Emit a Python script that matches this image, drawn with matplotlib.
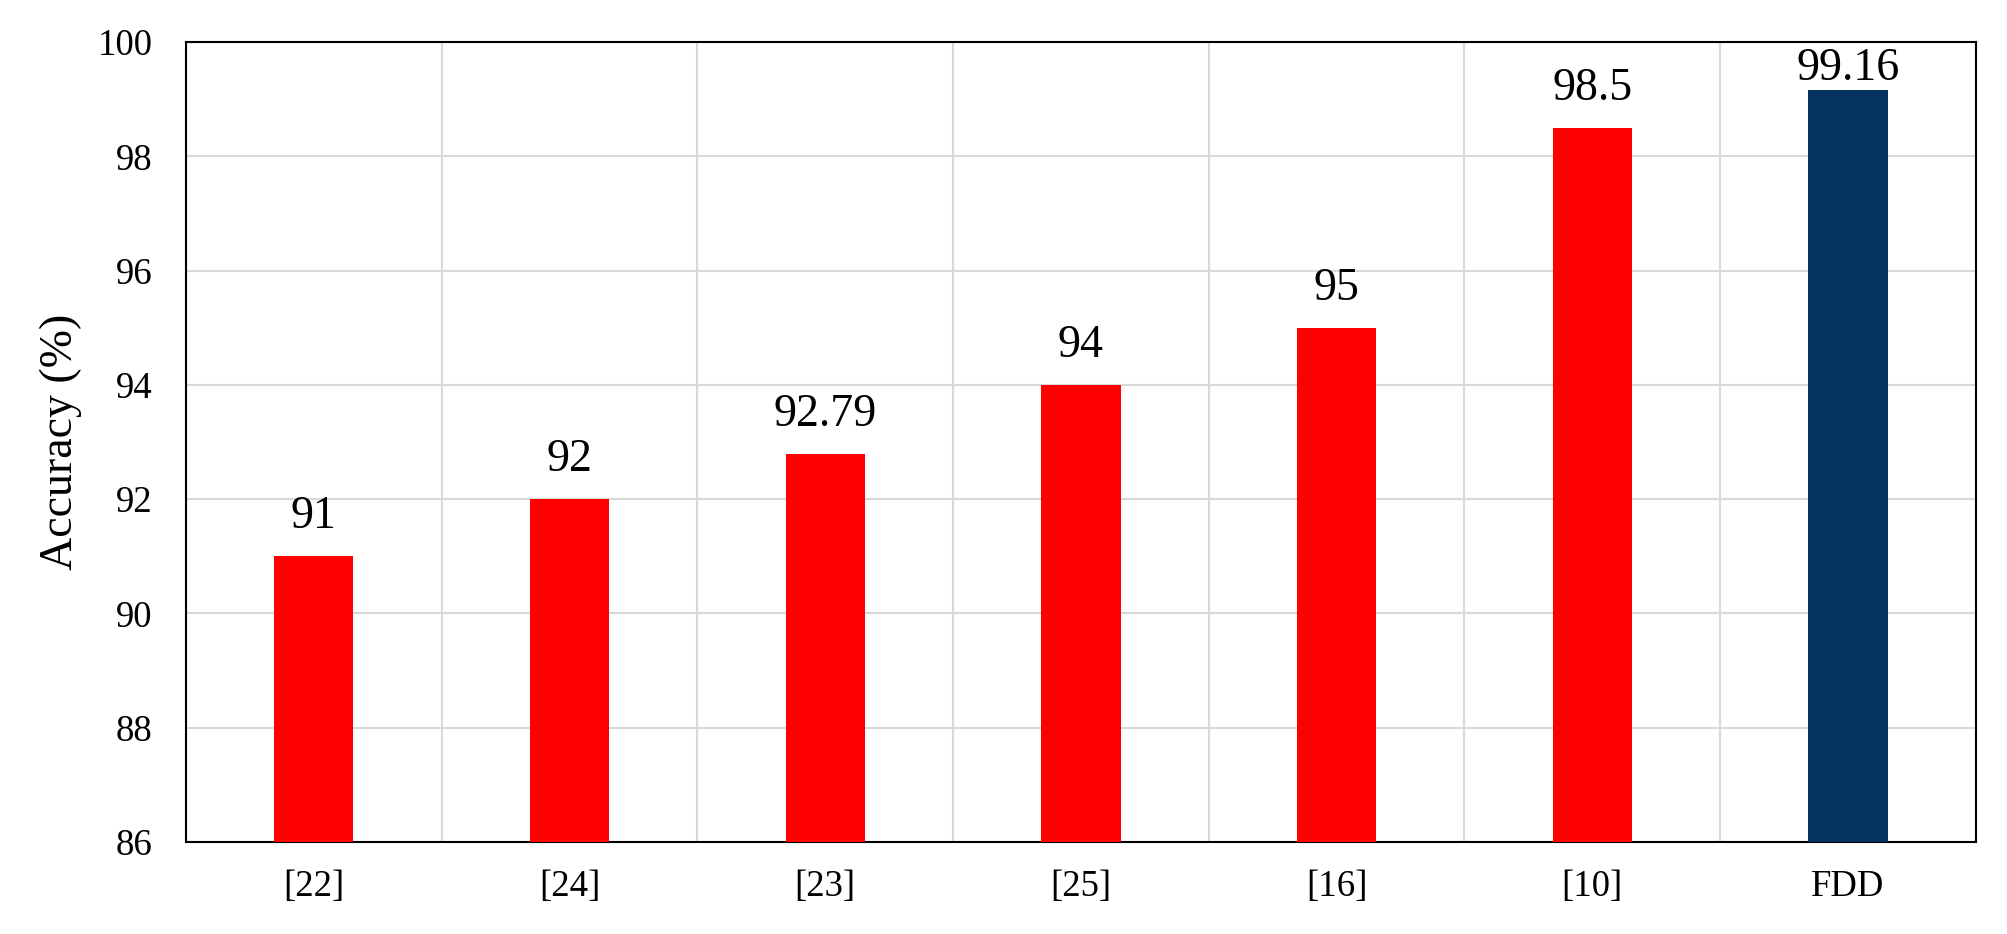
import numpy as np
import matplotlib.pyplot as plt

refs = ['[22]', '[24]', '[23]', '[25]', '[16]', '[10]', 'FDD']
accuracy = [91, 92, 92.79, 94, 95, 98.5, 99.16]
labels = ['91', '92', '92.79', '94', '95', '98.5', '99.16']
colors = ['#FF0000'] * 6 + ['#02345F']

plt.rcParams['font.family'] = ['Liberation Serif', 'DejaVu Serif']

fig = plt.figure(figsize=(20.08, 9.34), dpi=100)
ax = fig.add_axes([0.0926, 0.0985, 0.8914, 0.8565])

x = np.arange(len(refs))
bars = ax.bar(x, accuracy, width=0.31, color=colors, zorder=3)

ymax = 100
for b, lab in zip(bars, labels):
    h = b.get_height()
    # labels that would stick out of the plot area sit right on the bar
    off = 13 if h + 1.0 < ymax else 0
    ax.annotate(lab, (b.get_x() + b.get_width() / 2, h),
                xytext=(0, off), textcoords='offset points',
                ha='center', va='bottom', fontsize=33)

ax.set_ylim(86, ymax)
ax.set_yticks(np.arange(86, 101, 2))
ax.set_xlim(-0.5, len(refs) - 0.5)
ax.set_xticks(x)
ax.set_xticklabels(refs)
ax.set_xticks(np.arange(-0.5, len(refs)), minor=True)
ax.tick_params(axis='both', which='both', length=0, labelsize=26.5)
ax.tick_params(axis='x', pad=20)
ax.tick_params(axis='y', pad=24)

ax.grid(True, axis='y', color='#D9D9D9', linewidth=1.5, zorder=0)
ax.grid(True, axis='x', which='minor', color='#D9D9D9', linewidth=1.5, zorder=0)

for s in ax.spines.values():
    s.set_linewidth(1.5)
    s.set_color('black')

ax.set_ylabel('Accuracy (%)', fontsize=33)
ax.yaxis.set_label_coords(-0.058, 0.5)

fig.savefig('out.png', dpi=100)
